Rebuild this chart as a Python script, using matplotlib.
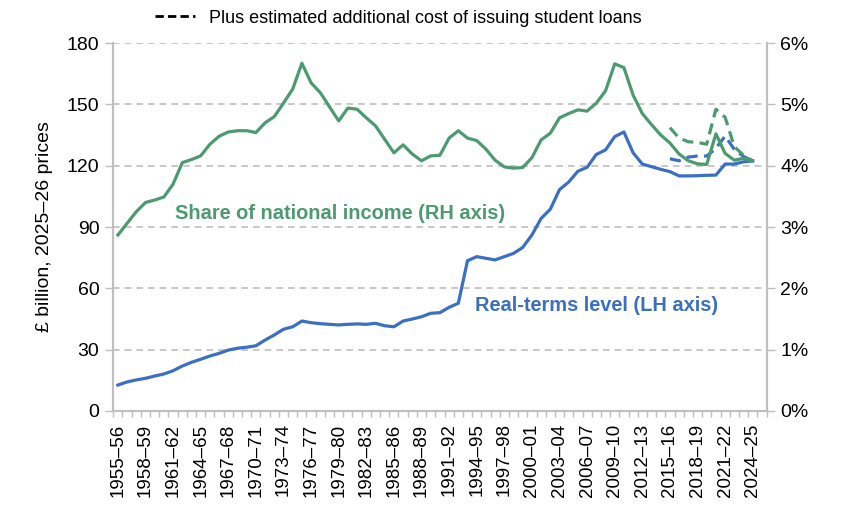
import numpy as np
import matplotlib.pyplot as plt

plt.rcParams['font.family'] = ['Liberation Sans', 'DejaVu Sans']

# financial years 1955-56 .. 2025-26 (last category has no data)
years = ['{}\u2013{:02d}'.format(y, (y + 1) % 100) for y in range(1955, 2026)]

# real-terms level, £ billion 2025-26 prices (LH axis), 1955-56 .. 2024-25
level = [12.7, 14.2, 15.2, 16.0, 17.1, 18.1, 19.7, 22.0, 23.8, 25.3,
         26.9, 28.2, 29.8, 30.7, 31.2, 31.9, 34.7, 37.2, 40.0, 41.2,
         44.0, 43.2, 42.7, 42.4, 42.1, 42.4, 42.6, 42.4, 42.9, 41.7,
         41.2, 44.0, 45.0, 46.1, 47.8, 48.1, 50.7, 52.7, 73.5, 75.5,
         74.7, 73.9, 75.5, 77.1, 80.0, 86.1, 94.2, 98.7, 108.3, 112.0,
         117.3, 119.2, 125.5, 127.7, 134.2, 136.5, 126.3, 120.8, 119.5, 118.2,
         117.1, 115.0, 115.0, 115.1, 115.3, 115.4, 120.8, 120.8, 121.9, 122.3]

# share of national income, % (RH axis)
share = [2.87, 3.06, 3.25, 3.40, 3.44, 3.49, 3.70, 4.05, 4.10, 4.16,
         4.35, 4.48, 4.55, 4.57, 4.57, 4.54, 4.70, 4.80, 5.02, 5.25,
         5.67, 5.35, 5.19, 4.96, 4.73, 4.94, 4.92, 4.78, 4.65, 4.43,
         4.21, 4.34, 4.19, 4.08, 4.16, 4.17, 4.45, 4.57, 4.45, 4.41,
         4.27, 4.09, 3.98, 3.96, 3.97, 4.13, 4.42, 4.53, 4.78, 4.85,
         4.91, 4.89, 5.02, 5.22, 5.66, 5.60, 5.15, 4.85, 4.67, 4.50,
         4.37, 4.19, 4.08, 4.03, 4.02, 4.52, 4.20, 4.09, 4.12, 4.08]

# plus student loan cost, 2015-16 .. 2024-25
loan_start = 60
level_loans = [123.4, 122.4, 124.2, 124.7, 124.7, 128.5, 134.5, 128.0, 124.5, 122.3]
share_loans = [4.62, 4.45, 4.39, 4.38, 4.35, 4.92, 4.79, 4.31, 4.17, 4.08]

green = '#4C9B70'
blue = '#3A6FC4'
grey = '#BFBFBF'

fig = plt.figure(figsize=(8.48, 5.19), dpi=100)
ax = fig.add_axes([0.1336, 0.2081, 0.7703, 0.709])
ax2 = ax.twinx()

x = np.arange(len(level))
xl = np.arange(loan_start, loan_start + len(level_loans))

ax.plot(x, level, color=blue, lw=2.3, solid_joinstyle='round', zorder=3)
ax.plot(xl, level_loans, color=blue, lw=2.3, ls=(0, (3.5, 2)), zorder=3)
ax2.plot(x, share, color=green, lw=2.3, solid_joinstyle='round', zorder=3)
ax2.plot(xl, share_loans, color=green, lw=2.3, ls=(0, (3.5, 2)), zorder=3)

ax.set_xlim(-0.5, len(years) - 0.5)
ax.set_ylim(0, 180)
ax2.set_ylim(0, 6)
ax.set_yticks(np.arange(0, 181, 30))
ax2.set_yticks(np.arange(0, 7, 1))
ax2.set_yticklabels(['{}%'.format(v) for v in range(7)])

ax.set_xticks(np.arange(0, len(years), 3))
ax.set_xticklabels(years[::3], rotation=90, fontsize=13.5)
ax.set_xticks(np.arange(-0.5, len(years), 1), minor=True)
ax.tick_params(axis='x', which='major', length=0, pad=9)
ax.tick_params(axis='x', which='minor', length=4, color=grey, width=1)
ax.tick_params(axis='y', length=6, color=grey, width=1, labelsize=14, pad=4)
ax2.tick_params(axis='y', length=6, color=grey, width=1, labelsize=14, pad=4)

ax.yaxis.grid(True, color=grey, ls=(0, (4, 3)), lw=1.2)
ax.set_axisbelow(True)

for a in (ax, ax2):
    a.spines['top'].set_visible(False)
    for s in ('left', 'right', 'bottom'):
        a.spines[s].set_color(grey)
        a.spines[s].set_linewidth(1.5)

ax.set_ylabel('£ billion, 2025\u201326 prices', fontsize=14, labelpad=10)

ax.text(0.095, 0.538, 'Share of national income (RH axis)', transform=ax.transAxes,
        color=green, fontsize=14.4, fontweight='bold', va='center')
ax.text(0.553, 0.288, 'Real-terms level (LH axis)', transform=ax.transAxes,
        color=blue, fontsize=14.4, fontweight='bold', va='center')

handle, = ax.plot([], [], color='black', lw=2, ls=(0, (3, 1.5)))
fig.legend([handle], ['Plus estimated additional cost of issuing student loans'],
           loc='center', bbox_to_anchor=(0.47, 0.965), frameon=False,
           fontsize=13, handlelength=2.2, handletextpad=0.8)

fig.savefig('out.png', dpi=100)
